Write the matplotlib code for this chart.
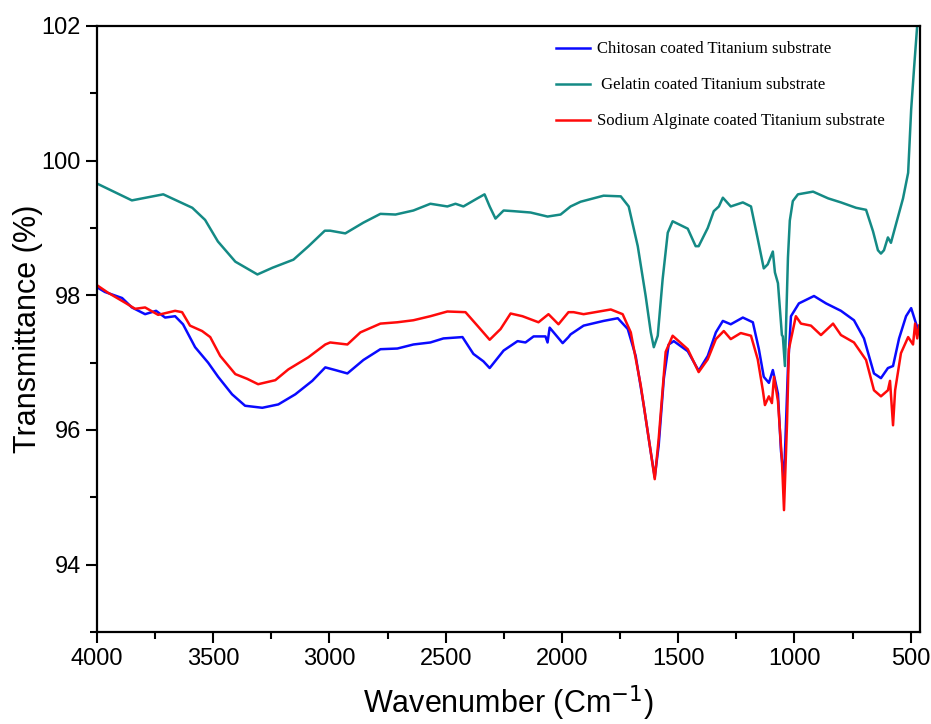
import matplotlib
matplotlib.use('Agg')
import matplotlib.pyplot as plt
from matplotlib.ticker import MultipleLocator

wn_gel = [4000, 3850, 3715, 3590, 3535, 3480, 3405, 3310, 3245, 3155, 3090, 3020,
          2997, 2932, 2854, 2781, 2716, 2639, 2566, 2493, 2458, 2424, 2364, 2333,
          2311, 2286, 2251, 2208, 2135, 2062, 2006, 1963, 1920, 1821, 1747, 1713,
          1674, 1640, 1618, 1605, 1588, 1567, 1545, 1524, 1459, 1425, 1412, 1373,
          1347, 1325, 1308, 1274, 1222, 1187, 1158, 1132, 1115, 1093, 1084, 1071,
          1054, 1050, 1041, 1028, 1020, 1007, 985, 920, 855, 800, 735, 692, 662,
          641, 628, 615, 598, 585, 563, 533, 511, 498, 485, 470]
t_gel = [99.66, 99.41, 99.50, 99.30, 99.12, 98.80, 98.50, 98.31, 98.41, 98.53, 98.73, 98.96,
         98.96, 98.92, 99.08, 99.21, 99.20, 99.26, 99.36, 99.32, 99.36, 99.32, 99.44, 99.50,
         99.32, 99.14, 99.26, 99.25, 99.23, 99.17, 99.20, 99.32, 99.39, 99.48, 99.47, 99.32,
         98.73, 97.99, 97.45, 97.23, 97.40, 98.24, 98.93, 99.10, 98.99, 98.73, 98.73, 99.00,
         99.25, 99.32, 99.45, 99.32, 99.38, 99.32, 98.84, 98.40, 98.46, 98.65, 98.34, 98.18,
         97.41, 97.39, 96.95, 98.56, 99.11, 99.40, 99.50, 99.54, 99.44, 99.38, 99.30, 99.27, 98.95,
         98.67, 98.62, 98.67, 98.86, 98.78, 99.06, 99.44, 99.82, 100.76, 101.40, 102.10]

wn_chi = [4000, 3966, 3892, 3850, 3793, 3746, 3707, 3664, 3630, 3578, 3522, 3479,
          3419, 3363, 3289, 3220, 3147, 3074, 3018, 2975, 2923, 2854, 2781, 2708,
          2639, 2566, 2510, 2428, 2381, 2338, 2311, 2251, 2191, 2157, 2122, 2071,
          2062, 2053, 1997, 1972, 1963, 1907, 1821, 1760, 1717, 1683, 1648, 1618,
          1601, 1584, 1562, 1541, 1519, 1459, 1412, 1373, 1338, 1308, 1274, 1222,
          1179, 1153, 1132, 1110, 1093, 1071, 1058, 1045, 1028, 1015, 981, 916,
          864, 800, 744, 701, 658, 628, 598, 576, 550, 520, 498, 477, 464]
t_chi = [98.12, 98.05, 97.96, 97.82, 97.72, 97.77, 97.67, 97.69, 97.57, 97.23, 97.00, 96.79,
         96.53, 96.36, 96.33, 96.38, 96.53, 96.73, 96.93, 96.89, 96.84, 97.04, 97.20, 97.21,
         97.27, 97.30, 97.36, 97.38, 97.13, 97.02, 96.92, 97.18, 97.32, 97.30, 97.39, 97.39,
         97.30, 97.52, 97.29, 97.38, 97.42, 97.55, 97.62, 97.66, 97.50, 97.10, 96.36, 95.67,
         95.30, 95.77, 96.76, 97.27, 97.32, 97.17, 96.88, 97.10, 97.45, 97.62, 97.57, 97.67,
         97.60, 97.20, 96.79, 96.70, 96.89, 96.54, 95.69, 95.25, 96.92, 97.69, 97.88, 97.99,
         97.88, 97.77, 97.63, 97.36, 96.84, 96.77, 96.92, 96.95, 97.36, 97.69, 97.81, 97.58, 97.47]

wn_alg = [4000, 3953, 3879, 3836, 3793, 3737, 3664, 3634, 3600, 3548, 3513, 3470,
          3405, 3354, 3307, 3233, 3177, 3091, 3018, 2997, 2923, 2867, 2781, 2708,
          2639, 2566, 2493, 2415, 2364, 2311, 2264, 2221, 2170, 2101, 2058, 2015,
          1972, 1950, 1907, 1790, 1739, 1704, 1661, 1618, 1601, 1584, 1554, 1524,
          1459, 1412, 1373, 1338, 1304, 1274, 1231, 1187, 1158, 1136, 1127, 1110,
          1097, 1088, 1071, 1054, 1045, 1032, 1024, 994, 972, 929, 886, 834,
          800, 744, 692, 658, 628, 598, 589, 576, 567, 542, 511, 490, 481, 472, 464]
t_alg = [98.15, 98.04, 97.89, 97.80, 97.82, 97.71, 97.77, 97.75, 97.55, 97.47, 97.38, 97.10,
         96.83, 96.76, 96.68, 96.74, 96.90, 97.08, 97.27, 97.30, 97.27, 97.45, 97.58, 97.60,
         97.63, 97.69, 97.76, 97.75, 97.55, 97.34, 97.50, 97.73, 97.69, 97.60, 97.72, 97.57,
         97.75, 97.75, 97.72, 97.79, 97.72, 97.45, 96.66, 95.67, 95.27, 95.87, 97.16, 97.40,
         97.20, 96.86, 97.05, 97.35, 97.47, 97.35, 97.44, 97.40, 97.05, 96.59, 96.37, 96.50,
         96.40, 96.79, 96.43, 95.56, 94.81, 96.10, 97.20, 97.69, 97.58, 97.55, 97.41, 97.58,
         97.41, 97.30, 97.04, 96.59, 96.50, 96.59, 96.73, 96.07, 96.59, 97.14, 97.38, 97.27,
         97.58, 97.36, 97.55]

fig = plt.figure(figsize=(9.31, 7.24), dpi=100)
ax = fig.add_axes([97/931, 1-632/724, (920-97)/931, (632-26)/724])

ax.plot(wn_chi, t_chi, color='#0a0aff', lw=1.8, label='Chitosan coated Titanium substrate')
ax.plot(wn_gel, t_gel, color='#148a85', lw=1.8, label=' Gelatin coated Titanium substrate')
ax.plot(wn_alg, t_alg, color='#ff0a0a', lw=1.8, label='Sodium Alginate coated Titanium substrate')

ax.set_xlim(4000, 460)
ax.set_ylim(93, 102)
ax.xaxis.set_major_locator(MultipleLocator(500))
ax.xaxis.set_minor_locator(MultipleLocator(250))
ax.yaxis.set_major_locator(MultipleLocator(2))
ax.yaxis.set_minor_locator(MultipleLocator(1))
ax.tick_params(which='major', direction='out', length=8, width=1.5, labelsize=17)
ax.tick_params(which='minor', direction='out', length=5, width=1.5)
for lab in ax.get_xticklabels() + ax.get_yticklabels():
    lab.set_family('Liberation Sans')
for s in ax.spines.values():
    s.set_linewidth(1.6)

ax.set_xlabel('Wavenumber (Cm$^{-1}$)', fontsize=22, family='Liberation Sans')
ax.set_ylabel('Transmittance (%)', fontsize=22, family='Liberation Sans')
ax.xaxis.set_label_coords(0.5, -0.085)
ax.yaxis.set_label_coords(-0.066, 0.5)

ax.legend(loc='upper left', bbox_to_anchor=(548/931, 1-33/724), bbox_transform=fig.transFigure,
          frameon=False, prop={'family': 'Liberation Serif', 'size': 12},
          handlelength=2.0, labelspacing=1.2, borderpad=0, handletextpad=0.45)

fig.savefig('out.png', dpi=100)
